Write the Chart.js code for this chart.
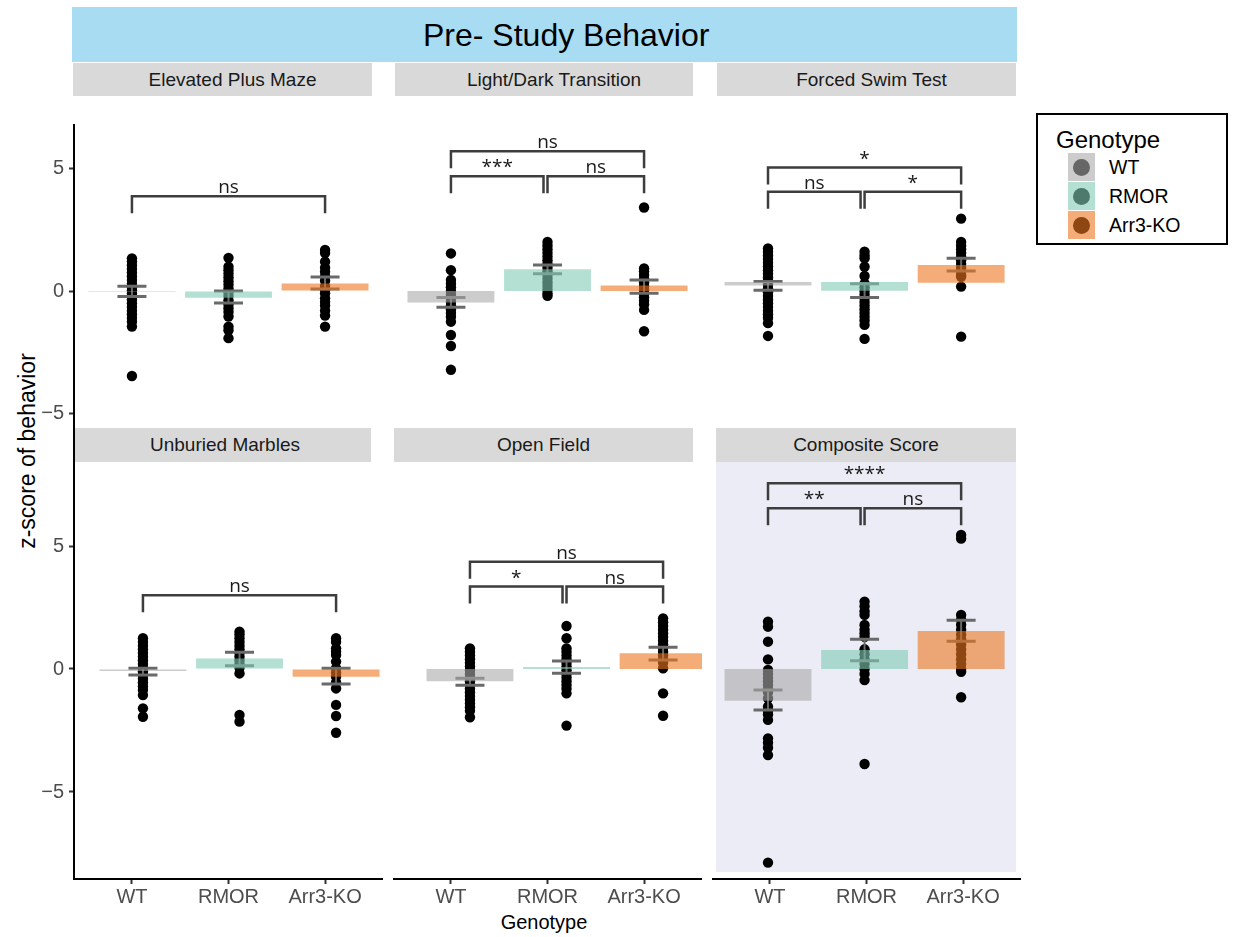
<!DOCTYPE html>
<html lang="en">
<head>
<meta charset="UTF-8">
<title>Pre- Study Behavior</title>
<script src="https://cdn.jsdelivr.net/npm/chart.js"></script>
<style>
  body { margin: 0; background: #fff; font-family: "Liberation Sans", Arial, sans-serif; }
  #fig { position: relative; width: 1238px; height: 937px; overflow: hidden; background: #fff; }
  canvas { position: absolute; z-index: 1; }
  .strip { position: absolute; z-index: 2; background: #d9d9d9; color: #1a1a1a; font-size: 19px; text-align: center; white-space: nowrap; }
  .txt { position: absolute; white-space: nowrap; color: #000; }
  #legend { position: absolute; left: 1036px; top: 113px; width: 192px; height: 132px; box-sizing: border-box; border: 2px solid #000; z-index: 3; }
  .key { position: absolute; left: 30px; width: 27px; height: 28px; background: #fff; }
  .key div { position: absolute; }
</style>
</head>
<body>
<div id="fig">
  <div class="txt" style="left:72px;top:7px;width:945px;height:55px;background:#a8dcf2;"></div>
  <div class="txt" style="left:423px;top:8px;line-height:55px;font-size:32px;">Pre- Study Behavior</div>
  <div class="txt" style="left:-123px;top:437px;width:300px;line-height:28px;font-size:23px;text-align:center;transform:rotate(-90deg);">z-score of behavior</div>
  <div class="txt" style="left:444px;top:908px;width:200px;line-height:28px;font-size:20px;text-align:center;">Genotype</div>
  <div id="legend">
    <div class="txt" style="left:18px;top:10px;font-size:24px;line-height:30px;">Genotype</div>
  </div>
</div>

<script>
  const genotypes = ['WT', 'RMOR', 'Arr3-KO'];

  // individual z-scores
  const epmWT = [1.33, 1.2, 1.05, 0.9, 0.75, 0.6, 0.45, 0.3, 0.15, 0.02, -0.1, -0.25, -0.35, -0.5, -0.65, -0.8, -0.95, -1.1, -1.25, -1.45, -3.46];
  const epmRMOR = [1.35, 0.99, 0.85, 0.7, 0.55, 0.4, 0.25, 0.1, -0.05, -0.2, -0.38, -0.55, -0.7, -0.85, -1.04, -1.45, -1.6, -1.92];
  const epmArr3 = [1.67, 1.55, 1.19, 0.95, 0.78, 0.6, 0.42, 0.2, 0.05, -0.1, -0.3, -0.45, -0.6, -0.8, -1.0, -1.45];

  const ldtWT = [1.53, 0.85, 0.45, 0.3, 0.15, 0.0, -0.15, -0.3, -0.45, -0.6, -0.75, -0.9, -1.05, -1.25, -1.79, -2.24, -3.21];
  const ldtRMOR = [2.0, 1.85, 1.7, 1.55, 1.4, 1.25, 1.1, 0.95, 0.8, 0.65, 0.5, 0.35, 0.2, 0.05, -0.1, -0.2];
  const ldtArr3 = [3.4, 0.92, 0.8, 0.65, 0.5, 0.35, 0.2, 0.05, -0.1, -0.25, -0.4, -0.55, -0.77, -1.64];

  const fstWT = [1.73, 1.6, 1.45, 1.3, 1.15, 1.0, 0.85, 0.7, 0.55, 0.4, 0.25, 0.1, -0.05, -0.2, -0.35, -0.5, -0.65, -0.8, -0.95, -1.1, -1.31, -1.83];
  const fstRMOR = [1.6, 1.45, 1.33, 0.99, 0.61, 0.31, 0.15, 0.0, -0.15, -0.3, -0.45, -0.6, -0.75, -0.9, -1.05, -1.2, -1.38, -1.95];
  const fstArr3 = [2.95, 2.0, 1.85, 1.7, 1.55, 1.4, 1.25, 1.1, 0.95, 0.8, 0.65, 0.58, 0.18, -1.86];

  const umWT = [1.25, 1.1, 0.95, 0.8, 0.65, 0.5, 0.35, 0.2, 0.05, -0.1, -0.25, -0.4, -0.55, -0.7, -0.85, -1.06, -1.6, -1.94];
  const umRMOR = [1.52, 1.4, 1.25, 1.1, 0.95, 0.8, 0.65, 0.5, 0.35, 0.2, 0.05, -0.18, -1.87, -2.14];
  const umArr3 = [1.25, 1.1, 0.84, 0.7, 0.57, 0.3, 0.03, -0.15, -0.31, -0.55, -0.79, -1.46, -1.91, -2.59];

  const ofWT = [0.84, 0.7, 0.55, 0.4, 0.25, 0.1, -0.05, -0.2, -0.35, -0.5, -0.65, -0.8, -0.95, -1.1, -1.25, -1.4, -1.55, -1.7, -1.96];
  const ofRMOR = [1.75, 1.25, 0.84, 0.7, 0.55, 0.4, 0.25, 0.1, -0.05, -0.2, -0.35, -0.5, -0.65, -0.8, -0.99, -2.3];
  const ofArr3 = [2.06, 1.9, 1.75, 1.6, 1.45, 1.3, 1.15, 1.0, 0.85, 0.7, 0.55, 0.4, 0.25, 0.03, -0.99, -1.9];

  const compWT = [1.92, 1.72, 1.11, 0.39, -0.04, -0.2, -0.35, -0.5, -0.65, -0.8, -0.95, -1.19, -1.53, -1.7, -1.85, -2.07, -2.82, -3.0, -3.2, -3.5, -7.87];
  const compRMOR = [2.74, 2.55, 2.35, 2.2, 1.79, 1.6, 1.45, 1.31, 0.8, 0.6, 0.4, 0.2, 0.0, -0.2, -0.45, -3.86];
  const compArr3 = [5.45, 5.3, 2.2, 2.0, 1.8, 1.6, 1.4, 1.2, 1.0, 0.8, 0.6, 0.4, 0.2, 0.0, -0.11, -1.15];

  // bar [base, top] per genotype
  const epmBars = [[0, -0.04], [0, -0.27], [0, 0.31]];
  const ldtBars = [[0, -0.47], [0, 0.89], [0, 0.22]];
  const fstBars = [[0.22, 0.37], [0.01, 0.37], [0.34, 1.06]];
  const umBars = [[0, -0.08], [0, 0.43], [0, -0.31]];
  const ofBars = [[0, -0.5], [0, 0.08], [0, 0.64]];
  const compBars = [[0, -1.29], [0, 0.77], [0, 1.54]];

  // error bar [low, high] per genotype
  const epmErr = [[-0.22, 0.19], [-0.49, 0.0], [0.08, 0.57]];
  const ldtErr = [[-0.66, -0.26], [0.7, 1.06], [-0.09, 0.45]];
  const fstErr = [[0.03, 0.39], [-0.26, 0.3], [0.81, 1.33]];
  const umErr = [[-0.24, 0.03], [0.13, 0.68], [-0.61, 0.03]];
  const ofErr = [[-0.66, -0.38], [-0.17, 0.33], [0.37, 0.88]];
  const compErr = [[-1.67, -0.85], [0.34, 1.21], [1.13, 1.98]];

  // significance: WT-RMOR, RMOR-Arr3, WT-Arr3
  const epmSig = ['ns'];
  const ldtSig = ['***', 'ns', 'ns'];
  const fstSig = ['ns', '*', '*'];
  const umSig = ['ns'];
  const ofSig = ['*', 'ns', 'ns'];
  const compSig = ['**', 'ns', '****'];

  const barColors = ['rgba(170,170,170,0.6)', 'rgba(128,203,180,0.6)', 'rgba(237,118,30,0.6)'];
  const fontFam = '"Liberation Sans", Arial, sans-serif';
  const fig = document.getElementById('fig');

  const panels = [
    { title: 'Elevated Plus Maze', pts: [epmWT, epmRMOR, epmArr3], bars: epmBars, err: epmErr, sig: epmSig,
      x: 0, row: 0, shift: 0, levels: [3.86], strip: [73, 63, 299, 33, 10] },
    { title: 'Light/Dark Transition', pts: [ldtWT, ldtRMOR, ldtArr3], bars: ldtBars, err: ldtErr, sig: ldtSig,
      x: 393, row: 0, shift: 0, levels: [4.67, 4.67, 5.69], strip: [395, 63, 298, 33, 10] },
    { title: 'Forced Swim Test', pts: [fstWT, fstRMOR, fstArr3], bars: fstBars, err: fstErr, sig: fstSig,
      x: 712, row: 0, shift: -0.02, levels: [4.04, 4.04, 5.03], strip: [717, 63, 299, 33, 5] },
    { title: 'Unburied Marbles', pts: [umWT, umRMOR, umArr3], bars: umBars, err: umErr, sig: umSig,
      x: 0, row: 1, shift: 0.114, levels: [3.0], strip: [75, 428, 296, 34, 2] },
    { title: 'Open Field', pts: [ofWT, ofRMOR, ofArr3], bars: ofBars, err: ofErr, sig: ofSig,
      x: 393, row: 1, shift: 0.197, levels: [3.35, 3.35, 4.36], strip: [394, 428, 299, 34, 0] },
    { title: 'Composite Score', pts: [compWT, compRMOR, compArr3], bars: compBars, err: compErr, sig: compSig,
      x: 712, row: 1, shift: -0.02, levels: [6.53, 6.53, 7.55], strip: [716, 428, 300, 34, -1], shade: 'rgb(235,236,245)' }
  ];

  const extras = {
    id: 'extras',
    beforeDraw(chart, args, o) {
      if (!o.shade) return;
      const a = chart.chartArea, ctx = chart.ctx;
      ctx.save();
      ctx.fillStyle = o.shade;
      ctx.fillRect(a.left + 4, a.top, a.right - a.left - 9, a.bottom - a.top - 7);
      ctx.restore();
    },
    afterDatasetDraw(chart, args, o) {
      if (args.index !== 0) return;
      const xs = chart.scales.x, ys = chart.scales.y, ctx = chart.ctx;
      ctx.save();
      ctx.strokeStyle = '#6a6a6a';
      o.err.forEach((e, i) => {
        const px = xs.getPixelForValue(i + 1);
        const lo = ys.getPixelForValue(e[0]), hi = ys.getPixelForValue(e[1]);
        ctx.lineWidth = 2;
        ctx.beginPath(); ctx.moveTo(px, lo); ctx.lineTo(px, hi); ctx.stroke();
        ctx.lineWidth = 3;
        ctx.beginPath();
        ctx.moveTo(px - 14.5, lo); ctx.lineTo(px + 14.5, lo);
        ctx.moveTo(px - 14.5, hi); ctx.lineTo(px + 14.5, hi);
        ctx.stroke();
      });
      ctx.restore();
    },
    afterDraw(chart, args, o) {
      const xs = chart.scales.x, ys = chart.scales.y, ctx = chart.ctx;
      const pairs = o.sig.length === 1 ? [[1, 3]] : [[1, 2], [2, 3], [1, 3]];
      ctx.save();
      ctx.strokeStyle = '#3d3d3d';
      ctx.lineWidth = 2.5;
      ctx.fillStyle = '#1a1a1a';
      ctx.font = '19px "Open Sans", sans-serif';
      ctx.textAlign = 'center';
      ctx.textBaseline = 'alphabetic';
      pairs.forEach((pr, k) => {
        const x1 = xs.getPixelForValue(pr[0]);
        let x2 = xs.getPixelForValue(pr[1]);
        if (pairs.length === 3 && k === 0) x2 -= 4;
        const yl = ys.getPixelForValue(o.levels[k]);
        ctx.beginPath();
        ctx.moveTo(x1, yl + 17); ctx.lineTo(x1, yl); ctx.lineTo(x2, yl); ctx.lineTo(x2, yl + 17);
        ctx.stroke();
        ctx.fillText(o.sig[k], (x1 + x2) / 2, yl - 3);
      });
      ctx.restore();
    }
  };

  function makePanel(p) {
    const left = p.x === 0;
    const bottom = p.row === 1;
    const w = left ? 383 : 309;
    const top = bottom ? 462 : 96;
    const h = bottom ? 457 : 366;
    const cv = document.createElement('canvas');
    cv.width = w; cv.height = h;
    cv.style.left = p.x + 'px'; cv.style.top = top + 'px';
    cv.style.width = w + 'px'; cv.style.height = h + 'px';
    fig.appendChild(cv);

    const points = [];
    p.pts.forEach((g, i) => g.forEach(v => points.push({ x: i + 1, y: v })));

    const yScale = {
      display: left,
      min: bottom ? -8.537 : -6.965,
      max: bottom ? 8.415 : 6.762,
      grid: { drawOnChartArea: false, drawTicks: true, tickLength: 5, tickWidth: 2, tickColor: '#333' },
      border: { display: true, color: '#000', width: 2 },
      ticks: {
        stepSize: 5, includeBounds: false, padding: 5, color: '#4d4d4d',
        font: { family: fontFam, size: 20 },
        callback: v => v < 0 ? '\u2212' + (-v) : String(v)
      }
    };
    if (left) yScale.afterFit = s => { s.width = 74; s.paddingTop = 0; s.paddingBottom = 0; };

    const scales = {
      x: {
        type: 'linear', display: false, offset: false, grid: { offset: false },
        min: 0.4 - p.shift, max: 3.6 - p.shift,
        ticks: { stepSize: 1, includeBounds: false }
      },
      y: yScale
    };
    if (bottom) {
      scales.xt = {
        type: 'linear', position: 'bottom', offset: false, min: 0.4, max: 3.6,
        afterFit(s) { s.height = 40; s.paddingLeft = 0; s.paddingRight = 0; },
        grid: { offset: false, drawOnChartArea: false, drawTicks: true, tickLength: 5, tickWidth: 2, tickColor: '#333' },
        border: { display: true, color: '#000', width: 2 },
        ticks: {
          stepSize: 1, includeBounds: false, autoSkip: false, maxRotation: 0, padding: 1,
          color: '#4d4d4d', font: { family: fontFam, size: 20 },
          callback: v => genotypes[v - 1] || ''
        }
      };
    }

    new Chart(cv, {
      type: 'bar',
      data: {
        datasets: [
          { type: 'scatter', data: points, pointRadius: 5.2, pointBackgroundColor: '#000', pointBorderWidth: 0, order: 2 },
          { type: 'bar', data: p.bars.map((b, i) => ({ x: i + 1, y: b })), backgroundColor: barColors,
            borderWidth: 0, categoryPercentage: 0.9, barPercentage: 1, order: 1 }
        ]
      },
      options: {
        responsive: false,
        animation: false,
        devicePixelRatio: 1,
        events: [],
        layout: { autoPadding: false, padding: { top: bottom ? 0 : 29, left: 0, right: 0, bottom: 0 } },
        scales: scales,
        plugins: {
          legend: { display: false },
          tooltip: { enabled: false },
          extras: { err: p.err, sig: p.sig, levels: p.levels, shade: p.shade }
        }
      },
      plugins: [extras]
    });

    const s = document.createElement('div');
    s.className = 'strip';
    s.style.left = p.strip[0] + 'px'; s.style.top = p.strip[1] + 'px';
    s.style.width = p.strip[2] + 'px'; s.style.height = p.strip[3] + 'px';
    s.style.lineHeight = p.strip[3] + 'px';
    s.style.paddingLeft = (2 * p.strip[4]) + 'px';
    s.style.boxSizing = 'border-box';
    s.textContent = p.title;
    fig.appendChild(s);
  }

  panels.forEach(makePanel);

  // legend
  const legend = document.getElementById('legend');
  genotypes.forEach((g, i) => {
    const k = document.createElement('div');
    k.className = 'key';
    k.style.top = (38 + i * 29) + 'px';
    const dot = document.createElement('div');
    dot.style.cssText = 'left:5px;top:6px;width:17px;height:17px;border-radius:50%;background:#000;';
    const tint = document.createElement('div');
    tint.style.cssText = 'left:0;top:0;width:27px;height:28px;background:' + barColors[i] + ';';
    k.appendChild(dot); k.appendChild(tint);
    legend.appendChild(k);
    const t = document.createElement('div');
    t.className = 'txt';
    t.style.cssText = 'left:71px;top:' + (40 + i * 29) + 'px;font-size:19.5px;line-height:24px;';
    t.textContent = g;
    legend.appendChild(t);
  });
</script>
</body>
</html>
